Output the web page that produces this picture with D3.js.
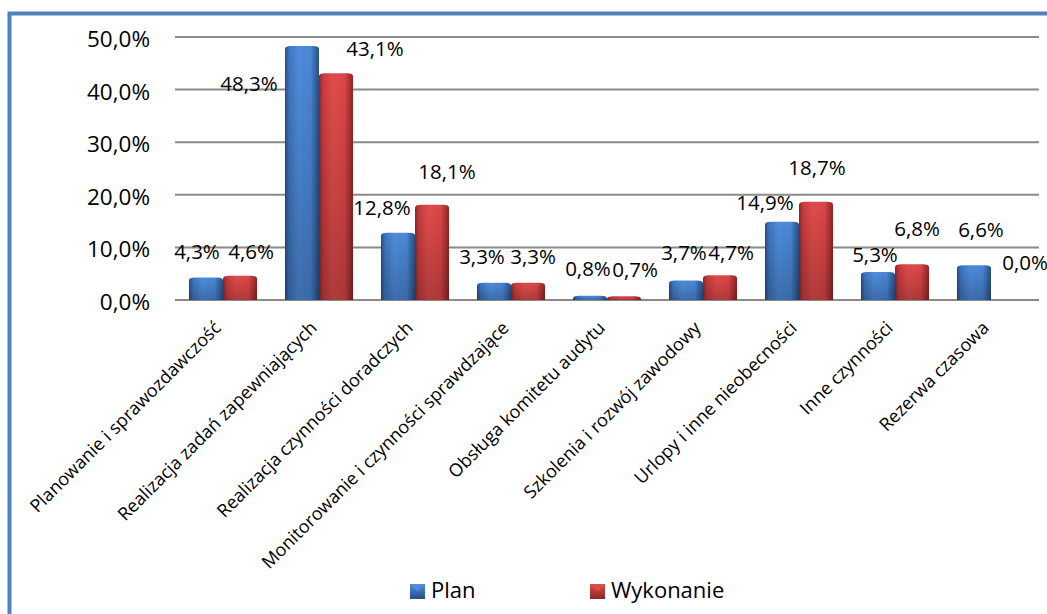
<!DOCTYPE html>
<html><head><meta charset="utf-8">
<script src="https://cdn.jsdelivr.net/npm/d3@7"></script>
<style>
html,body{margin:0;padding:0;background:#fff;}
svg{display:block;font-family:"Open Sans",sans-serif;}
</style></head>
<body>
<svg id="chart" width="1047" height="614"></svg>
<script>
const categories = [
  "Planowanie i sprawozdawczość",
  "Realizacja zadań zapewniających",
  "Realizacja czynności doradczych",
  "Monitorowanie i czynności sprawdzające",
  "Obsługa komitetu audytu",
  "Szkolenia i rozwój zawodowy",
  "Urlopy i inne nieobecności",
  "Inne czynności",
  "Rezerwa czasowa"
];
const seriesNames = ["Plan", "Wykonanie"];
const planValues = [4.3, 48.3, 12.8, 3.3, 0.8, 3.7, 14.9, 5.3, 6.6];
const wykonanieValues = [4.6, 43.1, 18.1, 3.3, 0.7, 4.7, 18.7, 6.8, 0.0];
const yTicks = [0, 10, 20, 30, 40, 50];

// label nudges (layout only): [dx from bar centre, dy from bar top]
const labelNudge = {
  Plan: [[-9,-26],[-53,38],[-16,-25],[-12,-26],[-2,-27],[-2,-28],[-17,-19],[-3,-18],[7,-36]],
  Wykonanie: [[11,-24],[39,-25],[15,-33],[5,-26],[11,-27],[11,-23],[1,-34],[5,-36],[17,-37]]
};

const fmt = v => v.toFixed(1).replace(".", ",") + "%";
const svg = d3.select("#chart");
const defs = svg.append("defs");

const rows = categories.map((c, i) => ({cat: c, i, Plan: planValues[i], Wykonanie: wykonanieValues[i]}));

const x = d3.scaleBand().domain(categories).range([175, 1039]).padding(0);
const x1 = d3.scaleBand().domain(seriesNames).range([0, x.bandwidth()]).paddingOuter(0.41).paddingInner(0);
const y = d3.scaleLinear().domain([0, 50]).range([300, 37]);

const colors = {
  Plan: {edge: "#274f86", mid: "#4a87d6", mid2: "#3e76c0", light: "#4f8cdb"},
  Wykonanie: {edge: "#8e2626", mid: "#dc4646", mid2: "#c73c3c", light: "#e04c4c"}
};
seriesNames.forEach((s, k) => {
  const c = colors[s];
  const g = defs.append("linearGradient").attr("id", "hg" + k).attr("x1", 0).attr("x2", 1).attr("y1", 0).attr("y2", 0);
  g.append("stop").attr("offset", "0%").attr("stop-color", c.edge);
  g.append("stop").attr("offset", "12%").attr("stop-color", c.mid2);
  g.append("stop").attr("offset", "40%").attr("stop-color", c.light);
  g.append("stop").attr("offset", "75%").attr("stop-color", c.mid);
  g.append("stop").attr("offset", "100%").attr("stop-color", c.edge);
  const lg = defs.append("linearGradient").attr("id", "lg" + k).attr("x1", 0).attr("x2", 0).attr("y1", 0).attr("y2", 1);
  lg.append("stop").attr("offset", "0%").attr("stop-color", c.light);
  lg.append("stop").attr("offset", "100%").attr("stop-color", c.edge);
});
const vg = defs.append("linearGradient").attr("id", "vshade").attr("x1", 0).attr("x2", 0).attr("y1", 0).attr("y2", 1);
vg.append("stop").attr("offset", "0%").attr("stop-color", "#000").attr("stop-opacity", 0);
vg.append("stop").attr("offset", "100%").attr("stop-color", "#000").attr("stop-opacity", 0.22);

// border
svg.append("rect").attr("x", 9.5).attr("y", 13.5).attr("width", 1100).attr("height", 700)
  .attr("fill", "none").attr("stroke", "#4f81bd").attr("stroke-width", 4);

// gridlines
svg.append("g").selectAll("line").data(yTicks).join("line")
  .attr("x1", 175).attr("x2", 1039)
  .attr("y1", d => y(d)).attr("y2", d => y(d))
  .attr("stroke", "#8a8a8a").attr("stroke-width", 2);

// y axis labels
const yAxis = d3.axisLeft(y).tickValues(yTicks).tickSize(0).tickPadding(0).tickFormat(fmt);
const ya = svg.append("g").attr("transform", "translate(150,0)").call(yAxis);
ya.select(".domain").remove();
ya.selectAll("text").attr("font-size", 22.5).attr("fill", "#000").attr("font-family", "Open Sans").attr("dy", "0.42em");

// bars
function barPath(x0, w, top, base) {
  if (base - top < 1) return "";
  const rx = Math.min(6, w / 2), ry = Math.min(3, (base - top));
  return `M${x0},${base}V${top + ry}Q${x0},${top} ${x0 + rx},${top}H${x0 + w - rx}Q${x0 + w},${top} ${x0 + w},${top + ry}V${base}Z`;
}
const groups = svg.append("g").selectAll("g").data(rows).join("g")
  .attr("transform", d => `translate(${x(d.cat)},0)`);
seriesNames.forEach((s, k) => {
  groups.append("path")
    .attr("d", d => barPath(x1(s), x1.bandwidth(), y(d[s]), y(0)))
    .attr("fill", `url(#hg${k})`);
  groups.append("path")
    .attr("d", d => barPath(x1(s), x1.bandwidth(), y(d[s]), y(0)))
    .attr("fill", "url(#vshade)");
});

// data labels
seriesNames.forEach(s => {
  svg.append("g").selectAll("text").data(rows).join("text")
    .attr("x", d => x(d.cat) + x1(s) + x1.bandwidth() / 2 + labelNudge[s][d.i][0])
    .attr("y", d => y(d[s]) + labelNudge[s][d.i][1])
    .attr("dy", "0.36em")
    .attr("text-anchor", "middle")
    .attr("font-size", 20.5).attr("fill", "#000")
    .text(d => fmt(d[s]));
});

// category labels
svg.append("g").selectAll("text").data(categories).join("text")
  .attr("transform", d => `translate(${x(d) + x.bandwidth() / 2 - 1},329) rotate(-45)`)
  .attr("text-anchor", "end")
  .attr("font-size", 18).attr("fill", "#000")
  .text(d => d);

// legend
const legendX = {Plan: 410, Wykonanie: 590};
seriesNames.forEach((s, k) => {
  const g = svg.append("g").attr("transform", `translate(${legendX[s]},584)`);
  g.append("rect").attr("width", 15).attr("height", 15).attr("fill", `url(#lg${k})`);
  g.append("path").attr("d", "M0,0H15L7.5,7.5Z").attr("fill", colors[s].light).attr("opacity", 0.9);
  g.append("text").attr("x", 21).attr("y", 14).attr("font-size", 22).attr("fill", "#000").text(s);
});
</script>
</body></html>
